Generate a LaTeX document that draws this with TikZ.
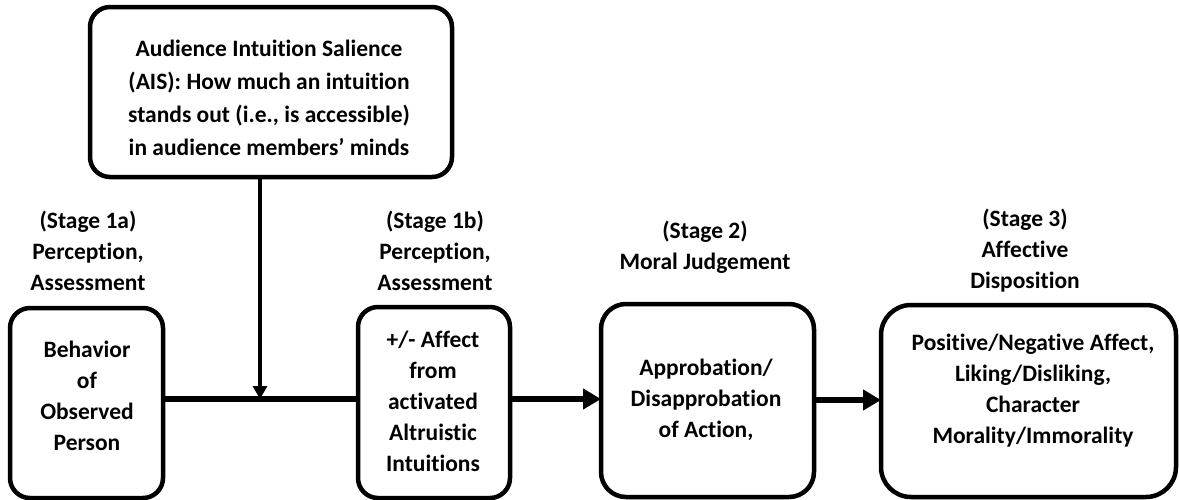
\documentclass[tikz,border=0pt]{standalone}
\usepackage{fontspec}
\setmainfont[Ligatures=NoCommon]{Carlito}
\usetikzlibrary{arrows.meta}
\tikzset{
  stagebox/.style={draw, line width=4.5pt, rounded corners=20pt},
  txt/.style={align=center, font=\bfseries\fontsize{23.5}{31}\selectfont, inner sep=0pt},
  flow/.style={line width=6pt, -{Triangle[length=18pt,width=20pt]}},
  linkline/.style={line width=6pt},
  cue/.style={line width=4.5pt, -{Triangle[length=13pt,width=14pt]}}
}
\begin{document}
\begin{tikzpicture}[x=1pt,y=-1pt]
\useasboundingbox (0,0) rectangle (1179,499);
\clip (0,0) rectangle (1179,499);
% boxes
\draw[stagebox] (90,7) rectangle (452,177);
\draw[stagebox] (10,308) rectangle (163,498);
\draw[stagebox] (358,307) rectangle (510,498);
\draw[stagebox, rounded corners=25pt] (601,304) rectangle (814,497);
\draw[stagebox, rounded corners=30pt] (881,305) rectangle (1176,497);
\coordinate (b1e) at (165,399);
\coordinate (b2w) at (358,399);
\coordinate (b2e) at (512,399);
\coordinate (b3w) at (601,399);
\coordinate (b3e) at (816,400);
\coordinate (b4w) at (881,400);
\coordinate (meet) at (260,399);
\coordinate (aisout) at (260,177);
% texts
\node[txt, font=\bfseries\fontsize{23.5}{33}\selectfont] (aist) at (269,98) {Audience Intuition Salience\\(AIS): How much an intuition\\stands out (i.e., is accessible)\\in audience members’ minds};
\node[txt] (s1a) at (88,251) {(Stage 1a)\\Perception,\\Assessment};
\node[txt] (s1b) at (435,251) {(Stage 1b)\\Perception,\\Assessment};
\node[txt] (s2) at (705,247) {(Stage 2)\\Moral Judgement};
\node[txt] (s3) at (1025,251) {(Stage 3)\\Affective\\Disposition};
\node[txt] (t1) at (87,396) {Behavior\\of\\Observed\\Person};
\node[txt] (t2) at (433,401) {+/- Affect\\from\\activated\\Altruistic\\Intuitions};
\node[txt] (t3) at (706,400) {Approbation/\\Disapprobation\\of Action,};
\node[txt] (t4) at (1033,391) {Positive/Negative Affect,\\Liking/Disliking,\\Character\\Morality/Immorality};
% connectors
\draw[linkline] (b1e) -- (b2w);
\draw[cue] (aisout) -- (meet);
\draw[flow] (b2e) -- (b3w);
\draw[flow] (b3e) -- (b4w);
\end{tikzpicture}
\end{document}
